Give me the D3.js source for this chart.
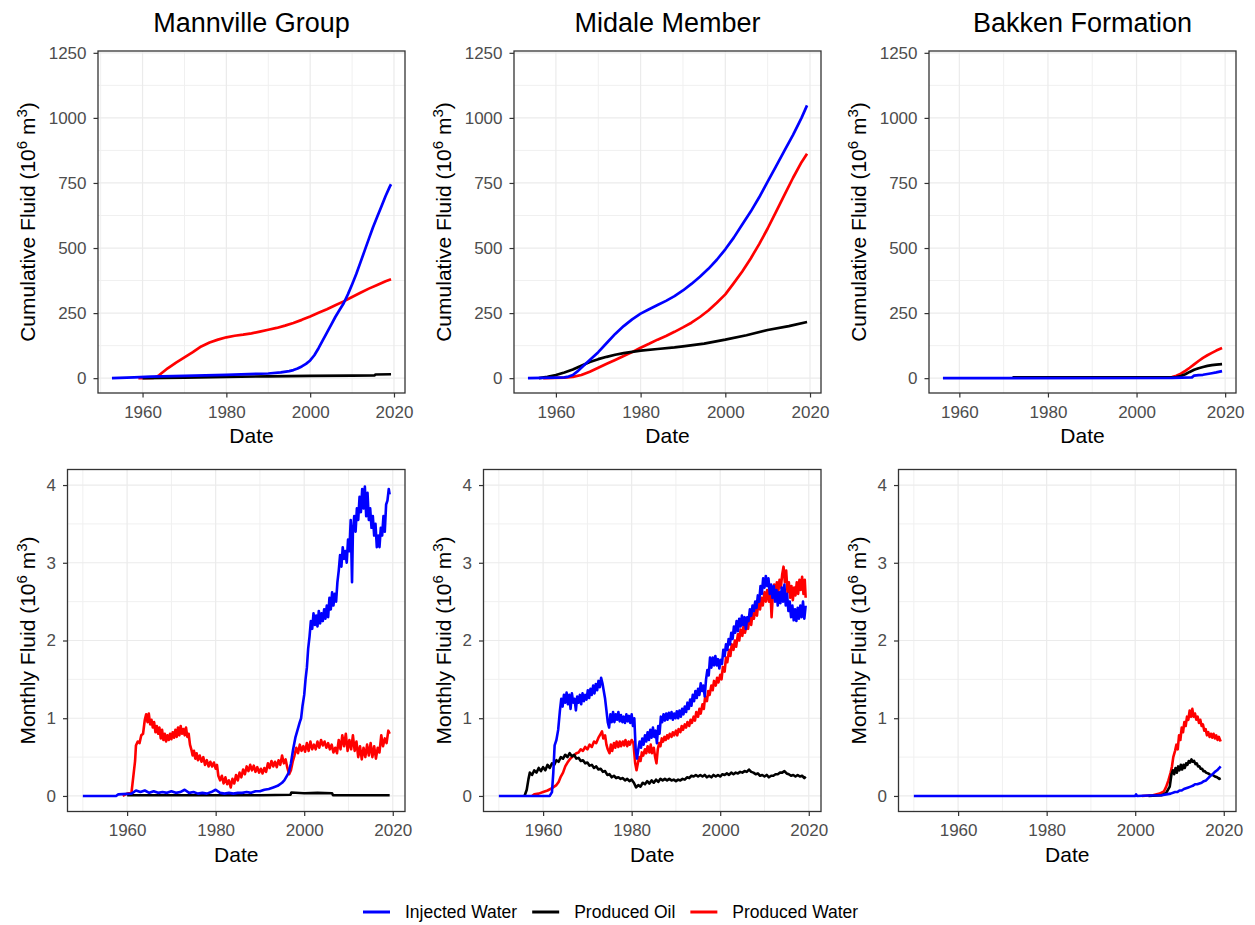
<!DOCTYPE html>
<html>
<head>
<meta charset="utf-8">
<title>Cumulative and Monthly Fluid by Formation</title>
<script src="https://cdn.jsdelivr.net/npm/d3@7"></script>
<style>
  body { margin: 0; background: #fff; }
  svg { display: block; font-family: "Liberation Sans", Arial, sans-serif; }
</style>
</head>
<body>
<div id="chart"></div>
<script>
// ---- names, colours, ticks ----
var seriesNames = ["Injected Water", "Produced Oil", "Produced Water"];
var seriesColors = ["#0000FF", "#000000", "#FF0000"];
var formations = ["Mannville Group", "Midale Member", "Bakken Formation"];
var cumTicks = [0, 250, 500, 750, 1000, 1250];
var monTicks = [0, 1, 2, 3, 4];
var yearTicks = [1960, 1980, 2000, 2020];

// ---- cumulative fluid, 10^6 m3 : [year, value] ----
var mannCumInj = [[1952.7,0],[1958,3],[1962,6],[1970,9],[1980,13],[1990,18],[1993,22],[1995,27],[1996,31],[1997,37],[1998,45],[1999,55],[2000,68],[2001,88],[2002,115],[2003,145],[2004,175],[2005,205],[2006,235],[2007,262],[2008,288],[2009,322],[2010,360],[2011,400],[2012,445],[2013,490],[2014,535],[2015,580],[2016,620],[2017,660],[2018,700],[2019,736],[2019.3,745]];
var mannCumOil = [[1960,0],[1970,2],[1980,5],[1990,7],[2000,9],[2010,10],[2015.4,11],[2015.6,14],[2019.3,15]];
var mannCumWat = [[1959,0],[1962.5,1],[1963.5,6],[1964,12],[1966,38],[1968,60],[1970,80],[1972,100],[1974,122],[1976,137],[1978,148],[1980,157],[1982,163],[1984,167],[1986,172],[1988,179],[1990,186],[1992,193],[1994,202],[1996,212],[1998,224],[2000,237],[2002,251],[2004,265],[2006,280],[2008,295],[2010,312],[2012,328],[2014,344],[2016,358],[2018,372],[2019.3,380]];

var midCumInj = [[1953.4,0],[1960,2],[1962,3],[1963,6],[1964,12],[1965,25],[1966,40],[1968,70],[1970,100],[1972,135],[1974,170],[1976,200],[1978,226],[1980,248],[1982,265],[1984,281],[1986,297],[1988,315],[1990,337],[1992,362],[1994,390],[1996,420],[1998,455],[2000,495],[2002,540],[2004,590],[2006,640],[2008,695],[2010,755],[2012,815],[2014,875],[2016,935],[2018,1000],[2019.3,1048]];
var midCumOil = [[1956,0],[1958,5],[1960,12],[1962,22],[1964,33],[1966,48],[1968,62],[1970,73],[1972,82],[1974,90],[1976,96],[1978,101],[1980,106],[1984,112],[1988,118],[1990,122],[1995,133],[2000,148],[2005,165],[2010,185],[2015,200],[2019.3,216]];
var midCumWat = [[1957,0],[1962,2],[1964,5],[1966,12],[1968,25],[1970,40],[1972,55],[1974,70],[1976,85],[1978,100],[1980,117],[1982,132],[1984,148],[1986,162],[1988,178],[1990,195],[1992,213],[1994,235],[1996,260],[1998,290],[2000,322],[2002,365],[2004,410],[2006,460],[2008,515],[2010,575],[2012,640],[2014,705],[2016,770],[2018,830],[2019.3,862]];

var bakCumInj = [[1956.3,0],[2008,1],[2012.5,3],[2013,10],[2014,12],[2015,13],[2016,16],[2017,19],[2018,22],[2019.3,27]];
var bakCumOil = [[1972,3],[2009,4],[2010,8],[2011,15],[2012,24],[2013,32],[2014,38],[2015,43],[2016,47],[2017,50],[2018,52],[2019.3,54]];
var bakCumWat = [[1989,2],[1994,3],[2008,4],[2009,9],[2010,17],[2011,28],[2012,40],[2013,53],[2014,66],[2015,78],[2016,88],[2017,97],[2018,106],[2019.3,116]];

// ---- monthly fluid, 10^6 m3 : [year, value] ----
var mannMonInj = [[1950,0],[1957.5,0],[1958,0.02],[1961,0.03],[1962,0.07],[1963,0.05],[1964,0.07],[1965,0.04],[1966,0.06],[1967,0.04],[1968,0.05],[1969,0.04],[1970,0.06],[1971,0.04],[1972,0.05],[1973,0.08],[1974,0.04],[1975,0.05],[1976,0.03],[1977,0.04],[1978,0.03],[1979,0.05],[1980,0.08],[1981,0.04],[1982,0.03],[1983,0.04],[1984,0.03],[1985,0.04],[1986,0.04],[1987,0.05],[1988,0.04],[1989,0.06],[1990,0.06],[1991,0.08],[1992,0.09],[1993,0.11],[1994,0.13],[1995,0.17],[1995.5,0.2],[1996,0.25],[1996.5,0.3],[1997,0.42],[1997.5,0.6],[1998,0.75],[1998.5,0.85],[1999,0.95],[1999.3,1.0],[1999.6,1.15],[2000,1.3],[2000.3,1.5],[2000.6,1.65],[2000.9,1.9],[2001.2,2.05],[2001.5,2.25],[2001.8,2.15],[2002.1,2.35],[2002.4,2.2],[2002.7,2.32],[2003,2.18],[2003.3,2.38],[2003.6,2.22],[2003.9,2.35],[2004.2,2.25],[2004.5,2.4],[2004.8,2.28],[2005.1,2.45],[2005.4,2.3],[2005.7,2.55],[2006,2.4],[2006.3,2.62],[2006.6,2.45],[2006.9,2.6],[2007.2,2.5],[2007.5,2.75],[2007.8,2.9],[2008.1,3.1],[2008.4,2.95],[2008.7,3.2],[2009,3.05],[2009.3,3.15],[2009.6,3.0],[2009.9,3.3],[2010.2,3.15],[2010.5,3.55],[2010.8,2.75],[2011,3.4],[2011.3,3.6],[2011.6,3.4],[2011.9,3.7],[2012.2,3.55],[2012.5,3.85],[2012.8,3.65],[2013.1,3.95],[2013.4,3.7],[2013.7,3.98],[2014,3.6],[2014.3,3.9],[2014.6,3.55],[2014.9,3.7],[2015.2,3.45],[2015.5,3.6],[2015.8,3.35],[2016.1,3.5],[2016.4,3.2],[2016.7,3.35],[2017,3.2],[2017.3,3.45],[2017.6,3.35],[2017.9,3.6],[2018.2,3.4],[2018.5,3.75],[2018.8,3.8],[2019.1,3.95],[2019.3,3.88]];
var mannMonOil = [[1960,0.01],[1975,0.01],[1990,0.01],[1996.9,0.015],[1997.1,0.045],[2000,0.035],[2003,0.04],[2006.3,0.035],[2006.5,0.01],[2019.3,0.01]];
var mannMonWat = [[1959,0],[1960,0.03],[1961,0.05],[1961.5,0.3],[1961.8,0.45],[1962,0.65],[1962.4,0.7],[1962.8,0.68],[1963.2,0.78],[1963.6,0.8],[1964,0.98],[1964.3,1.05],[1964.6,0.95],[1964.9,1.06],[1965.2,0.92],[1965.5,0.98],[1965.8,0.88],[1966.1,0.95],[1966.4,0.82],[1966.7,0.9],[1967,0.8],[1967.3,0.88],[1967.6,0.74],[1967.9,0.85],[1968.2,0.72],[1968.5,0.8],[1968.8,0.7],[1969.1,0.78],[1969.4,0.72],[1969.7,0.8],[1970,0.73],[1970.3,0.82],[1970.6,0.75],[1970.9,0.85],[1971.2,0.76],[1971.5,0.88],[1971.8,0.78],[1972.1,0.9],[1972.4,0.8],[1972.7,0.86],[1973,0.78],[1973.3,0.88],[1973.6,0.76],[1973.9,0.8],[1974.2,0.66],[1974.5,0.6],[1974.8,0.52],[1975.1,0.58],[1975.4,0.48],[1975.7,0.55],[1976,0.46],[1976.4,0.52],[1976.8,0.44],[1977.2,0.5],[1977.6,0.4],[1978,0.46],[1978.4,0.38],[1978.8,0.44],[1979.2,0.38],[1979.6,0.43],[1980,0.35],[1980.3,0.4],[1980.6,0.26],[1981,0.2],[1981.4,0.26],[1981.8,0.16],[1982.2,0.24],[1982.6,0.15],[1983,0.2],[1983.4,0.11],[1983.8,0.22],[1984.2,0.16],[1984.6,0.27],[1985,0.2],[1985.4,0.3],[1985.8,0.24],[1986.2,0.34],[1986.6,0.28],[1987,0.38],[1987.4,0.32],[1987.8,0.4],[1988.2,0.33],[1988.6,0.39],[1989,0.31],[1989.4,0.37],[1989.8,0.3],[1990.2,0.35],[1990.6,0.29],[1991,0.36],[1991.4,0.31],[1991.8,0.42],[1992.2,0.36],[1992.6,0.45],[1993,0.38],[1993.4,0.44],[1993.8,0.37],[1994.2,0.46],[1994.6,0.4],[1995,0.52],[1995.4,0.42],[1995.8,0.47],[1996.2,0.36],[1996.6,0.28],[1997,0.33],[1997.4,0.44],[1997.8,0.52],[1998.2,0.62],[1998.6,0.55],[1999,0.66],[1999.4,0.58],[1999.8,0.64],[2000.2,0.57],[2000.6,0.68],[2001,0.58],[2001.4,0.7],[2001.8,0.6],[2002.2,0.66],[2002.6,0.6],[2003,0.7],[2003.4,0.62],[2003.8,0.72],[2004.2,0.65],[2004.6,0.7],[2005,0.62],[2005.4,0.68],[2005.8,0.6],[2006.2,0.66],[2006.6,0.56],[2007,0.62],[2007.4,0.55],[2007.8,0.72],[2008.2,0.6],[2008.6,0.78],[2009,0.64],[2009.4,0.8],[2009.8,0.58],[2010.2,0.72],[2010.6,0.6],[2011,0.78],[2011.4,0.58],[2011.8,0.7],[2012.2,0.5],[2012.6,0.64],[2013,0.47],[2013.4,0.62],[2013.8,0.5],[2014.2,0.66],[2014.6,0.52],[2015,0.68],[2015.4,0.5],[2015.8,0.64],[2016.2,0.48],[2016.6,0.62],[2017,0.56],[2017.4,0.78],[2017.8,0.64],[2018.2,0.74],[2018.6,0.68],[2019,0.84],[2019.3,0.8]];

var midMonInj = [[1950,0],[1961.5,0],[1962,0.05],[1962.3,0.3],[1962.6,0.65],[1963,0.72],[1963.4,0.85],[1963.8,1.1],[1964.1,1.25],[1964.4,1.15],[1964.7,1.3],[1965,1.2],[1965.3,1.33],[1965.6,1.18],[1965.9,1.3],[1966.2,1.12],[1966.5,1.32],[1966.8,1.2],[1967.1,1.25],[1967.4,1.1],[1967.7,1.28],[1968,1.2],[1968.3,1.3],[1968.6,1.18],[1968.9,1.32],[1969.2,1.22],[1969.5,1.3],[1969.8,1.24],[1970.1,1.36],[1970.4,1.26],[1970.7,1.38],[1971,1.3],[1971.3,1.42],[1971.6,1.32],[1971.9,1.44],[1972.2,1.36],[1972.5,1.48],[1972.8,1.4],[1973.1,1.52],[1973.4,1.45],[1973.7,1.35],[1974,1.25],[1974.3,1.1],[1974.6,0.95],[1974.9,0.88],[1975.2,1.05],[1975.5,0.95],[1975.8,1.08],[1976.1,0.95],[1976.4,1.05],[1976.7,0.98],[1977,1.08],[1977.3,0.96],[1977.6,1.04],[1977.9,0.95],[1978.2,1.02],[1978.5,0.94],[1978.8,1.05],[1979.1,0.96],[1979.4,1.03],[1979.7,0.94],[1980,1.05],[1980.3,0.9],[1980.6,1.0],[1980.9,0.6],[1981.2,0.48],[1981.5,0.6],[1981.8,0.7],[1982.1,0.62],[1982.4,0.74],[1982.7,0.66],[1983,0.78],[1983.3,0.7],[1983.6,0.82],[1983.9,0.72],[1984.2,0.85],[1984.5,0.75],[1984.8,0.88],[1985.1,0.76],[1985.4,0.84],[1985.7,0.68],[1986,0.9],[1986.3,0.8],[1986.6,1.02],[1986.9,0.95],[1987.2,1.05],[1987.5,0.97],[1987.8,1.06],[1988.1,0.98],[1988.4,1.07],[1988.7,1.0],[1989,1.08],[1989.3,0.98],[1989.6,1.06],[1989.9,1.0],[1990.2,1.09],[1990.5,1.0],[1990.8,1.1],[1991.1,1.02],[1991.4,1.12],[1991.7,1.05],[1992,1.15],[1992.3,1.08],[1992.6,1.2],[1992.9,1.12],[1993.2,1.24],[1993.5,1.16],[1993.8,1.3],[1994.1,1.22],[1994.4,1.35],[1994.7,1.26],[1995,1.38],[1995.3,1.3],[1995.6,1.45],[1995.9,1.35],[1996.2,1.42],[1996.5,1.28],[1996.8,1.5],[1997.1,1.62],[1997.4,1.55],[1997.7,1.78],[1998,1.65],[1998.3,1.78],[1998.6,1.68],[1998.9,1.8],[1999.2,1.68],[1999.5,1.76],[1999.8,1.64],[2000.1,1.75],[2000.4,1.7],[2000.7,1.88],[2001,1.8],[2001.3,1.95],[2001.6,1.88],[2001.9,2.02],[2002.2,1.95],[2002.5,2.1],[2002.8,2.02],[2003.1,2.18],[2003.4,2.1],[2003.7,2.25],[2004,2.12],[2004.3,2.28],[2004.6,2.18],[2004.9,2.32],[2005.2,2.2],[2005.5,2.3],[2005.8,2.15],[2006.1,2.3],[2006.4,2.25],[2006.7,2.4],[2007,2.32],[2007.3,2.45],[2007.6,2.38],[2007.9,2.5],[2008.2,2.42],[2008.5,2.58],[2008.8,2.5],[2009.1,2.7],[2009.4,2.6],[2009.7,2.8],[2010,2.68],[2010.3,2.83],[2010.6,2.7],[2010.9,2.8],[2011.2,2.6],[2011.5,2.72],[2011.8,2.55],[2012.1,2.7],[2012.4,2.5],[2012.7,2.65],[2013,2.45],[2013.3,2.62],[2013.6,2.48],[2013.9,2.68],[2014.2,2.5],[2014.5,2.72],[2014.8,2.45],[2015.1,2.6],[2015.4,2.38],[2015.7,2.5],[2016,2.3],[2016.3,2.45],[2016.6,2.26],[2016.9,2.4],[2017.2,2.25],[2017.5,2.42],[2017.8,2.28],[2018.1,2.45],[2018.4,2.3],[2018.7,2.5],[2019,2.28],[2019.3,2.45]];
var midMonOil = [[1955.8,0],[1956.3,0.08],[1956.7,0.22],[1957,0.3],[1957.5,0.27],[1958,0.33],[1958.5,0.3],[1959,0.36],[1959.5,0.32],[1960,0.37],[1960.5,0.33],[1961,0.4],[1961.5,0.36],[1962,0.42],[1962.5,0.4],[1963,0.46],[1963.5,0.44],[1964,0.5],[1964.5,0.48],[1965,0.53],[1965.5,0.5],[1966,0.55],[1966.5,0.51],[1967,0.53],[1967.5,0.48],[1968,0.49],[1968.5,0.45],[1969,0.46],[1969.5,0.42],[1970,0.43],[1970.5,0.39],[1971,0.4],[1971.5,0.36],[1972,0.38],[1972.5,0.34],[1973,0.35],[1973.5,0.31],[1974,0.32],[1974.5,0.27],[1975,0.28],[1975.5,0.24],[1976,0.26],[1976.5,0.23],[1977,0.24],[1977.5,0.22],[1978,0.23],[1978.5,0.2],[1979,0.22],[1979.5,0.19],[1980,0.21],[1980.5,0.17],[1981,0.11],[1981.5,0.14],[1982,0.12],[1982.5,0.17],[1983,0.15],[1983.5,0.19],[1984,0.16],[1984.5,0.2],[1985,0.17],[1985.5,0.21],[1986,0.18],[1986.5,0.22],[1987,0.2],[1987.5,0.22],[1988,0.2],[1988.5,0.22],[1989,0.2],[1989.5,0.21],[1990,0.19],[1990.5,0.21],[1991,0.2],[1991.5,0.22],[1992,0.21],[1992.5,0.24],[1993,0.23],[1993.5,0.26],[1994,0.25],[1994.5,0.27],[1995,0.25],[1995.5,0.27],[1996,0.25],[1996.5,0.27],[1997,0.24],[1997.5,0.26],[1998,0.24],[1998.5,0.27],[1999,0.25],[1999.5,0.27],[2000,0.25],[2000.5,0.28],[2001,0.27],[2001.5,0.29],[2002,0.27],[2002.5,0.3],[2003,0.28],[2003.5,0.3],[2004,0.29],[2004.5,0.31],[2005,0.3],[2005.5,0.32],[2006,0.31],[2006.5,0.34],[2007,0.31],[2007.5,0.3],[2008,0.28],[2008.5,0.29],[2009,0.26],[2009.5,0.27],[2010,0.25],[2010.5,0.27],[2011,0.24],[2011.5,0.26],[2012,0.26],[2012.5,0.28],[2013,0.28],[2013.5,0.3],[2014,0.3],[2014.5,0.32],[2015,0.29],[2015.5,0.28],[2016,0.26],[2016.5,0.27],[2017,0.25],[2017.5,0.27],[2018,0.25],[2018.5,0.26],[2019,0.23],[2019.3,0.25]];
var midMonWat = [[1957.5,0],[1958,0.02],[1959,0.03],[1960,0.05],[1961,0.07],[1962,0.1],[1963,0.14],[1963.5,0.18],[1964,0.25],[1964.5,0.3],[1965,0.38],[1965.5,0.43],[1966,0.47],[1966.5,0.5],[1967,0.52],[1967.5,0.55],[1968,0.56],[1968.5,0.6],[1969,0.58],[1969.5,0.63],[1970,0.6],[1970.5,0.66],[1971,0.63],[1971.5,0.7],[1972,0.68],[1972.5,0.75],[1973,0.8],[1973.3,0.83],[1973.6,0.74],[1974,0.78],[1974.3,0.66],[1974.6,0.6],[1975,0.55],[1975.3,0.66],[1975.6,0.58],[1976,0.68],[1976.3,0.62],[1976.6,0.7],[1977,0.63],[1977.3,0.7],[1977.6,0.64],[1978,0.7],[1978.3,0.65],[1978.6,0.72],[1979,0.64],[1979.3,0.7],[1979.6,0.66],[1980,0.72],[1980.4,0.68],[1980.8,0.42],[1981.1,0.33],[1981.4,0.42],[1981.7,0.5],[1982,0.45],[1982.3,0.56],[1982.6,0.52],[1983,0.6],[1983.3,0.55],[1983.6,0.64],[1984,0.56],[1984.3,0.66],[1984.6,0.55],[1985,0.62],[1985.3,0.5],[1985.6,0.42],[1985.9,0.6],[1986.2,0.68],[1986.5,0.64],[1986.8,0.74],[1987.1,0.7],[1987.4,0.76],[1987.7,0.72],[1988,0.78],[1988.3,0.74],[1988.6,0.8],[1989,0.76],[1989.3,0.82],[1989.6,0.78],[1990,0.84],[1990.3,0.78],[1990.6,0.86],[1991,0.82],[1991.3,0.9],[1991.6,0.85],[1992,0.92],[1992.3,0.88],[1992.6,0.95],[1993,0.9],[1993.3,0.98],[1993.6,0.94],[1994,1.02],[1994.3,0.97],[1994.6,1.08],[1995,1.02],[1995.3,1.12],[1995.6,1.06],[1996,1.18],[1996.3,1.12],[1996.6,1.28],[1997,1.22],[1997.3,1.35],[1997.6,1.3],[1998,1.42],[1998.3,1.36],[1998.6,1.48],[1999,1.42],[1999.3,1.52],[1999.6,1.46],[2000,1.56],[2000.3,1.5],[2000.6,1.66],[2001,1.6],[2001.3,1.78],[2001.6,1.72],[2002,1.88],[2002.3,1.8],[2002.6,1.95],[2003,1.88],[2003.3,2.0],[2003.6,1.92],[2004,2.08],[2004.3,2.0],[2004.6,2.14],[2005,2.06],[2005.3,2.2],[2005.6,2.1],[2006,2.22],[2006.3,2.15],[2006.6,2.3],[2007,2.2],[2007.3,2.35],[2007.6,2.28],[2008,2.42],[2008.3,2.32],[2008.6,2.48],[2009,2.4],[2009.3,2.55],[2009.6,2.45],[2010,2.62],[2010.3,2.5],[2010.6,2.65],[2011,2.5],[2011.3,2.7],[2011.6,2.3],[2011.9,2.6],[2012.2,2.72],[2012.5,2.58],[2012.8,2.75],[2013.1,2.62],[2013.4,2.78],[2013.7,2.68],[2014,2.85],[2014.3,2.95],[2014.6,2.75],[2014.9,2.9],[2015.2,2.62],[2015.5,2.75],[2015.8,2.55],[2016.1,2.7],[2016.4,2.52],[2016.7,2.68],[2017,2.58],[2017.3,2.75],[2017.6,2.6],[2017.9,2.78],[2018.2,2.65],[2018.5,2.82],[2018.8,2.6],[2019.1,2.78],[2019.3,2.55]];

var bakMonInj = [[1950,0],[2000,0],[2000.2,0.02],[2000.4,0],[2003,0.005],[2006,0.01],[2007,0.02],[2008,0.03],[2009,0.05],[2009.5,0.05],[2010,0.07],[2010.5,0.07],[2011,0.09],[2011.5,0.1],[2012,0.11],[2012.5,0.12],[2013,0.13],[2013.5,0.15],[2014,0.15],[2014.5,0.16],[2015,0.17],[2015.5,0.19],[2016,0.2],[2016.5,0.23],[2017,0.26],[2017.5,0.28],[2018,0.31],[2018.5,0.33],[2019,0.36],[2019.3,0.38]];
var bakMonOil = [[2003,0],[2006,0.01],[2007,0.04],[2007.8,0.12],[2008.2,0.28],[2008.5,0.33],[2008.8,0.28],[2009.1,0.36],[2009.4,0.3],[2009.7,0.38],[2010,0.33],[2010.3,0.4],[2010.6,0.34],[2010.9,0.4],[2011.2,0.36],[2011.5,0.42],[2011.8,0.4],[2012.1,0.45],[2012.4,0.43],[2012.7,0.47],[2013,0.44],[2013.3,0.45],[2013.6,0.41],[2013.9,0.42],[2014.2,0.38],[2014.5,0.38],[2014.8,0.35],[2015.1,0.35],[2015.4,0.32],[2015.7,0.32],[2016,0.3],[2016.5,0.29],[2017,0.27],[2017.5,0.27],[2018,0.25],[2018.5,0.24],[2019,0.22],[2019.3,0.23]];
var bakMonWat = [[2001.5,0],[2004,0.01],[2005.5,0.03],[2006.5,0.06],[2007,0.12],[2007.5,0.2],[2008,0.3],[2008.3,0.38],[2008.6,0.5],[2009,0.58],[2009.3,0.66],[2009.6,0.6],[2009.9,0.78],[2010.2,0.72],[2010.5,0.88],[2010.8,0.82],[2011.1,0.95],[2011.4,0.9],[2011.7,1.02],[2012,0.98],[2012.3,1.1],[2012.6,1.02],[2012.9,1.12],[2013.2,1.02],[2013.5,1.06],[2013.8,0.98],[2014.1,1.02],[2014.4,0.94],[2014.7,0.98],[2015,0.9],[2015.3,0.92],[2015.6,0.84],[2015.9,0.86],[2016.2,0.78],[2016.5,0.82],[2016.8,0.76],[2017.1,0.8],[2017.4,0.75],[2017.7,0.8],[2018,0.74],[2018.3,0.78],[2018.6,0.72],[2018.9,0.76],[2019.3,0.7]];

// ---- layout ----
var width = 1255, height = 925;
var colOrigin = [0, 416, 831];
var fontTitle = 27, fontAxisTitle = 21, fontTick = 17, fontLegend = 17.5;

var rows = [
    {top: 51, bottom: 393, left: 98, right: 405, yDomain: [-57, 1257], yTicks: cumTicks,
     label: "Cumulative Fluid", lw: 2.7,
     panels: [[mannCumInj, mannCumOil, mannCumWat], [midCumInj, midCumOil, midCumWat], [bakCumInj, bakCumOil, bakCumWat]]},
    {top: 469.5, bottom: 811.5, left: 67.5, right: 405, yDomain: [-0.2, 4.2], yTicks: monTicks,
     label: "Monthly Fluid", lw: 2.6,
     panels: [[mannMonInj, mannMonOil, mannMonWat], [midMonInj, midMonOil, midMonWat], [bakMonInj, bakMonOil, bakMonWat]]}
];

var svg = d3.select("#chart").append("svg")
    .attr("width", width)
    .attr("height", height);

svg.append("rect").attr("width", width).attr("height", height).attr("fill", "#fff");

function minorOf(ticks, domain) {
    var step = ticks[1] - ticks[0];
    var out = ticks.map(function(t) { return t - step / 2; });
    out.push(ticks[ticks.length - 1] + step / 2);
    return out.filter(function(t) { return t >= domain[0] && t <= domain[1]; });
}

rows.forEach(function(row, r) {
    row.panels.forEach(function(series, c) {
        var ox = colOrigin[c];
        var left = ox + row.left, right = ox + row.right;

        // x domain from the data, expanded 5% each side (ggplot default)
        var all = [].concat(series[0], series[1], series[2]);
        var ext = d3.extent(all, function(d) { return d[0]; });
        var pad = (ext[1] - ext[0]) * 0.05;
        var x = d3.scaleLinear().domain([ext[0] - pad, ext[1] + pad]).range([left, right]);
        var y = d3.scaleLinear().domain(row.yDomain).range([row.bottom, row.top]);

        var g = svg.append("g");

        // grid
        var xMinor = minorOf(yearTicks, x.domain());
        var yMinor = minorOf(row.yTicks, y.domain());
        g.selectAll(".xmin").data(xMinor).enter().append("line")
            .attr("x1", function(d) { return x(d); }).attr("x2", function(d) { return x(d); })
            .attr("y1", row.top).attr("y2", row.bottom)
            .attr("stroke", "#F0F0F0").attr("stroke-width", 1);
        g.selectAll(".ymin").data(yMinor).enter().append("line")
            .attr("x1", left).attr("x2", right)
            .attr("y1", function(d) { return y(d); }).attr("y2", function(d) { return y(d); })
            .attr("stroke", "#F0F0F0").attr("stroke-width", 1);
        g.selectAll(".xmaj").data(yearTicks.filter(function(t) { return t <= x.domain()[1]; })).enter().append("line")
            .attr("x1", function(d) { return x(d); }).attr("x2", function(d) { return x(d); })
            .attr("y1", row.top).attr("y2", row.bottom)
            .attr("stroke", "#EBEBEB").attr("stroke-width", 1.2);
        g.selectAll(".ymaj").data(row.yTicks).enter().append("line")
            .attr("x1", left).attr("x2", right)
            .attr("y1", function(d) { return y(d); }).attr("y2", function(d) { return y(d); })
            .attr("stroke", "#EBEBEB").attr("stroke-width", 1.2);

        // lines: water, oil, then injected water on top
        var line = d3.line()
            .x(function(d) { return x(d[0]); })
            .y(function(d) { return y(d[1]); });
        [2, 1, 0].forEach(function(k) {
            g.append("path")
                .datum(series[k])
                .attr("d", line)
                .attr("fill", "none")
                .attr("stroke", seriesColors[k])
                .attr("stroke-width", row.lw)
                .attr("stroke-linejoin", "round");
        });

        // border
        g.append("rect")
            .attr("x", left).attr("y", row.top)
            .attr("width", right - left).attr("height", row.bottom - row.top)
            .attr("fill", "none").attr("stroke", "#333333").attr("stroke-width", 1.3);

        // axes
        var xAxis = d3.axisBottom(x).tickValues(yearTicks.filter(function(t) { return t <= x.domain()[1]; }))
            .tickFormat(d3.format("d")).tickSizeInner(4.5).tickSizeOuter(0).tickPadding(8);
        var gx = g.append("g").attr("transform", "translate(0," + row.bottom + ")").call(xAxis);
        var yAxis = d3.axisLeft(y).tickValues(row.yTicks)
            .tickFormat(d3.format("d")).tickSizeInner(4.5).tickSizeOuter(0).tickPadding(7);
        var gy = g.append("g").attr("transform", "translate(" + left + ",0)").call(yAxis);
        [gx, gy].forEach(function(a) {
            a.select(".domain").remove();
            a.selectAll(".tick line").attr("stroke", "#333333").attr("stroke-width", 1.2);
            a.selectAll(".tick text")
                .attr("fill", "#4D4D4D")
                .style("font-size", fontTick + "px")
                .style("font-family", "'Liberation Sans', Arial, sans-serif");
        });

        // x title
        g.append("text")
            .attr("x", (left + right) / 2)
            .attr("y", row.bottom + 50)
            .attr("text-anchor", "middle")
            .style("font-size", fontAxisTitle + "px")
            .text("Date");

        // y title with superscripts
        var yt = g.append("text")
            .attr("transform", "translate(" + (ox + 35) + "," + ((row.top + row.bottom) / 2) + ") rotate(-90)")
            .attr("text-anchor", "middle")
            .style("font-size", fontAxisTitle + "px");
        yt.append("tspan").text(row.label + " (10");
        yt.append("tspan").attr("dy", -8).style("font-size", "15px").text("6");
        yt.append("tspan").attr("dy", 8).text(" m");
        yt.append("tspan").attr("dy", -8).style("font-size", "15px").text("3");
        yt.append("tspan").attr("dy", 8).text(")");

        // panel title
        if (r === 0) {
            g.append("text")
                .attr("x", (left + right) / 2)
                .attr("y", 32)
                .attr("text-anchor", "middle")
                .style("font-size", fontTitle + "px")
                .text(formations[c]);
        }
    });
});

// legend
var legend = svg.append("g");
var lx = 363, ly = 912;
seriesNames.forEach(function(name, i) {
    legend.append("line")
        .attr("x1", lx).attr("x2", lx + 27)
        .attr("y1", ly).attr("y2", ly)
        .attr("stroke", seriesColors[i]).attr("stroke-width", 3);
    var t = legend.append("text")
        .attr("x", lx + 42)
        .attr("y", ly + 6)
        .style("font-size", fontLegend + "px")
        .text(name);
    lx = lx + 42 + t.node().getComputedTextLength() + 15;
});
</script>
</body>
</html>
